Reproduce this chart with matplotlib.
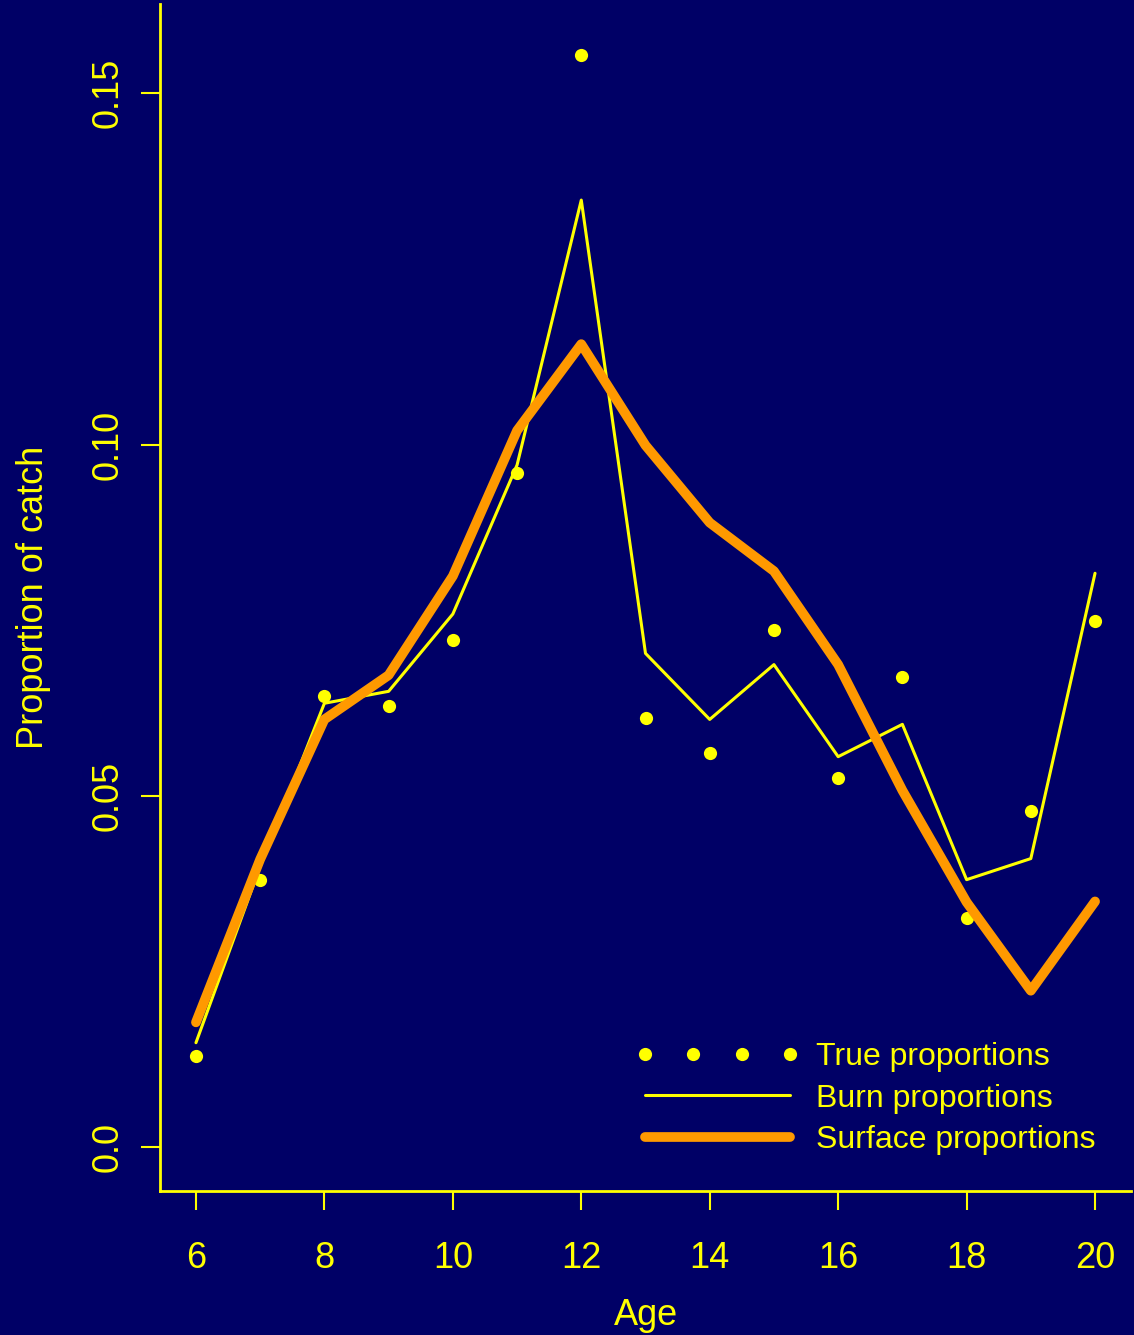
import matplotlib
matplotlib.use("Agg")
import matplotlib.pyplot as plt

plt.rcParams['font.family'] = ['Liberation Sans', 'DejaVu Sans']

# catch-at-age proportions
ages = [6, 7, 8, 9, 10, 11, 12, 13, 14, 15, 16, 17, 18, 19, 20]
true_prop = [0.0130, 0.0381, 0.0642, 0.0628, 0.0722, 0.0959, 0.1555, 0.0611,
             0.0561, 0.0736, 0.0525, 0.0669, 0.0326, 0.0478, 0.0749]
burn_prop = [0.0149, 0.0400, 0.0632, 0.0649, 0.0759, 0.0971, 0.1348, 0.0703,
             0.0609, 0.0687, 0.0556, 0.0602, 0.0381, 0.0411, 0.0817]
surface_prop = [0.0178, 0.0410, 0.0609, 0.0672, 0.0813, 0.1020, 0.1143, 0.0999,
                0.0889, 0.0820, 0.0687, 0.0508, 0.0349, 0.0223, 0.0350]
xticks = [6, 8, 10, 12, 14, 16, 18, 20]
yticks = [0.0, 0.05, 0.10, 0.15]
ytick_labels = ["0.0", "0.05", "0.10", "0.15"]

bg = "#000066"
yel = "#FFFF00"
orange = "#FF9900"

W, H = 1134, 1335
fig = plt.figure(figsize=(W / 100, H / 100), dpi=100, facecolor=bg)
ax = fig.add_axes([160 / W, (H - 1191) / H, (1131 - 160) / W, (1191 - 4) / H])
ax.set_facecolor(bg)

ax.plot(ages, true_prop, 'o', color=yel, markersize=9.5, markeredgewidth=0,
        label="True proportions")
ax.plot(ages, burn_prop, '-', color=yel, linewidth=2.2, solid_capstyle='round',
        label="Burn proportions")
ax.plot(ages, surface_prop, '-', color=orange, linewidth=7,
        solid_capstyle='round', solid_joinstyle='round', label="Surface proportions")

ax.set_xlim(5.44, 20.56)
ax.set_ylim(-0.0062, 0.1627)

for s in ['top', 'right']:
    ax.spines[s].set_visible(False)
for s in ['left', 'bottom']:
    ax.spines[s].set_color(yel)
    ax.spines[s].set_linewidth(2)

ax.set_xticks(xticks)
ax.set_xticklabels([str(t) for t in xticks])
ax.set_yticks(yticks)
ax.set_yticklabels(ytick_labels, rotation=90, va='center')
ax.tick_params(colors=yel, labelcolor=yel, labelsize=26, length=14, width=1.5)
ax.tick_params(axis='x', pad=22)
ax.tick_params(axis='y', pad=11)

ax.set_xlabel("Age", color=yel, fontsize=26, labelpad=16)
ax.set_ylabel("Proportion of catch", color=yel, fontsize=26, labelpad=28)

leg = ax.legend(loc='upper left', bbox_to_anchor=(635 / W, 1 - 1042 / H),
                bbox_transform=fig.transFigure, frameon=False, borderpad=0,
                borderaxespad=0, fontsize=23, numpoints=4, handlelength=5.16,
                handletextpad=0.5, labelspacing=0.36)
for t in leg.get_texts():
    t.set_color(yel)

fig.savefig("out.png", dpi=100, facecolor=bg)
